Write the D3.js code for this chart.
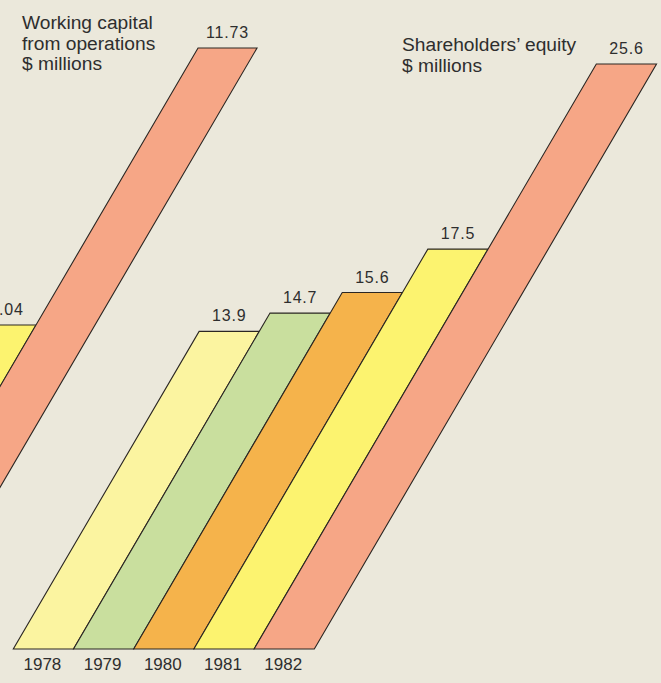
<!DOCTYPE html>
<html>
<head>
<meta charset="utf-8">
<script src="https://cdn.jsdelivr.net/npm/d3@7"></script>
<style>
  html, body { margin: 0; padding: 0; background: #ebe8db; }
  svg { display: block; }
  text { font-family: "Liberation Sans", Arial, sans-serif; fill: #2e2e2e; }
</style>
</head>
<body>
<div id="chart"></div>
<script>
const years = ['1978', '1979', '1980', '1981', '1982'];

// Shareholders' equity, $ millions
const equityValues = [13.9, 14.7, 15.6, 17.5, 25.6];

// Working capital from operations, $ millions (only the last two bars are in the picture)
const capitalYears = ['1981', '1982'];
const capitalValues = [6.04, 11.73];

const barColors = ['#fbf4a0', '#c9df9e', '#f5b34b', '#fcf36f', '#f6a686'];

const width = 661;
const height = 683;
const slant = 0.585; // horizontal shift per pixel of bar height

const svg = d3.select('#chart').append('svg')
  .attr('width', width)
  .attr('height', height);

svg.append('rect')
  .attr('width', width)
  .attr('height', height)
  .attr('fill', '#ebe8db');

// parallelogram leaning right
function barPath(x0, w, yBase, yTop) {
  const dx = (yBase - yTop) * slant;
  return `M${x0},${yBase}L${x0 + w},${yBase}L${x0 + w + dx},${yTop}L${x0 + dx},${yTop}Z`;
}

function drawGroup(g, data, x, y, baseY) {
  const w = x.bandwidth();
  g.selectAll('path.bar')
    .data(data)
    .enter()
    .append('path')
    .attr('class', 'bar')
    .attr('d', d => barPath(x(d.year), w, baseY, y(d.value)))
    .attr('fill', d => barColors[years.indexOf(d.year)])
    .attr('stroke', '#2a2623')
    .attr('stroke-width', 1.1)
    .attr('stroke-linejoin', 'miter');

  g.selectAll('text.value')
    .data(data)
    .enter()
    .append('text')
    .attr('class', 'value')
    .attr('x', d => x(d.year) + w / 2 + (baseY - y(d.value)) * slant)
    .attr('y', d => y(d.value) - 10)
    .attr('text-anchor', 'middle')
    .style('font-size', '16px')
    .style('letter-spacing', '0.8px')
    .text(d => d.value);
}

// Right group: shareholders' equity
const equityData = years.map((year, i) => ({ year, value: equityValues[i] }));
const baseEq = 649;
const xEq = d3.scaleBand().domain(years).range([13.3, 314.3]);
const yEq = d3.scaleLinear().domain([0, 25.6]).range([baseEq, 64]);

// Left group: working capital, base falls below the visible area on the left
const capitalData = capitalYears.map((year, i) => ({ year, value: capitalValues[i] }));
const baseWc = 619;
const xWc = d3.scaleBand().domain(years).range([-372, -77]);
const yWc = d3.scaleLinear().domain([0, 11.73]).range([baseWc, 48]);

drawGroup(svg.append('g'), capitalData, xWc, yWc, baseWc);
drawGroup(svg.append('g'), equityData, xEq, yEq, baseEq);

// year labels under the equity bars
svg.append('g')
  .selectAll('text')
  .data(years)
  .enter()
  .append('text')
  .attr('x', d => xEq(d) + xEq.bandwidth() / 2 - 1)
  .attr('y', 670)
  .attr('text-anchor', 'middle')
  .style('font-size', '17px')
  .text(d => d);

// titles
function title(x, y0, lines) {
  svg.append('text')
    .attr('x', x)
    .attr('y', y0)
    .style('font-size', '19.2px')
    .selectAll('tspan')
    .data(lines)
    .enter()
    .append('tspan')
    .attr('x', x)
    .attr('dy', (d, i) => i ? 20.5 : 0)
    .text(d => d);
}

title(22, 29, ['Working capital', 'from operations', '$ millions']);
title(402, 51, ['Shareholders\u2019 equity', '$ millions']);
</script>
</body>
</html>
